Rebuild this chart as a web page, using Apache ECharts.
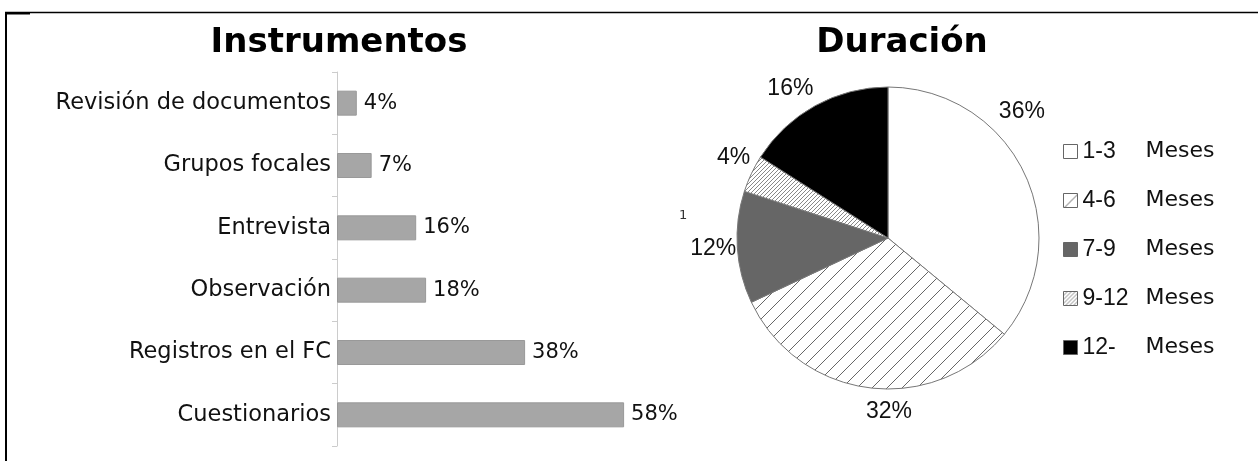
<!DOCTYPE html>
<html>
<head>
<meta charset="utf-8">
<script src="https://cdn.jsdelivr.net/npm/echarts@6/dist/echarts.min.js"></script>
<style>
html,body{margin:0;padding:0;background:#fff;}
#main{width:1258px;height:461px;}
</style>
</head>
<body>
<div id="main"></div>
<script>
// ---- data ----
const barTitle = 'Instrumentos';
const barCategories = ['Revisión de documentos', 'Grupos focales', 'Entrevista', 'Observación', 'Registros en el FC', 'Cuestionarios'];
const barValues = [4, 7, 16, 18, 38, 58];

const pieTitle = 'Duración';
const pieRanges = ['1-3', '4-6', '7-9', '9-12', '12-'];
const pieUnit = 'Meses';
const pieValues = [36, 32, 12, 4, 16];

// ---- styles ----
function hatch(size, gap, color, lw) {
  const c = document.createElement('canvas');
  c.width = size; c.height = size;
  const g = c.getContext('2d');
  g.fillStyle = '#fff'; g.fillRect(0, 0, size, size);
  g.strokeStyle = color; g.lineWidth = lw;
  g.beginPath();
  for (let k = 0; k <= 2 * size; k += gap) {
    g.moveTo(k + 1, -1); g.lineTo(-1, k + 1);
  }
  g.stroke();
  return c;
}
const sliceFills = [
  '#ffffff',
  { image: hatch(15, 15, '#666', 1), repeat: 'repeat' },
  '#666666',
  { image: hatch(16, 4, '#888', 1), repeat: 'repeat' },
  '#000000'
];
// label nudges (pixels) for the pie's percentage labels, in slice order
const pieLabelNudge = [[-38, -59], [49, 16], [12, 1], [11, -13], [7, -10]];

const chart = echarts.init(document.getElementById('main'), null, { renderer: 'canvas' });

const option = {
  backgroundColor: '#fff',
  animation: false,
  title: [
    { text: barTitle, left: 334, top: 21, textAlign: 'center',
      textStyle: { fontFamily: 'DejaVu Sans', fontWeight: 'bold', fontSize: 34, color: '#000' } },
    { text: pieTitle, left: 897, top: 21, textAlign: 'center',
      textStyle: { fontFamily: 'DejaVu Sans', fontWeight: 'bold', fontSize: 34, color: '#000' } }
  ],
  grid: { left: 337, top: 72, height: 374, width: 297, containLabel: false },
  xAxis: { type: 'value', min: 0, max: 60, show: false },
  yAxis: {
    type: 'category', data: barCategories, inverse: true,
    axisLine: { show: true, lineStyle: { color: '#cccccc', width: 1 } },
    axisTick: { show: true, length: 5, lineStyle: { color: '#cccccc' } },
    axisLabel: { fontFamily: 'DejaVu Sans', fontSize: 22.5, color: '#111', margin: 6 },
    splitLine: { show: false }
  },
  legend: {
    orient: 'vertical', left: 1058, top: 135, itemGap: 26,
    itemWidth: 14, itemHeight: 14, icon: 'rect',
    data: pieRanges.map(r => r + ' ' + pieUnit),
    itemStyle: { borderColor: '#666', borderWidth: 1 },
    formatter: name => {
      const i = name.lastIndexOf(' ');
      return '{a|' + name.slice(0, i) + '}{b|' + name.slice(i + 1) + '}';
    },
    textStyle: {
      rich: {
        a: { fontFamily: 'Liberation Sans', fontSize: 23, color: '#111', width: 63 },
        b: { fontFamily: 'DejaVu Sans', fontSize: 22, color: '#111' }
      }
    }
  },
  series: [
    {
      type: 'bar', data: barValues, barWidth: 25,
      itemStyle: { color: '#a6a6a6', borderColor: '#999999', borderWidth: 1 },
      label: { show: true, position: 'right', distance: 7, formatter: '{c}%',
        fontFamily: 'DejaVu Sans', fontSize: 21, color: '#111' }
    },
    {
      type: 'pie', center: [888, 238], radius: 151, startAngle: 90, clockwise: true,
      data: pieValues.map((v, i) => ({
        name: pieRanges[i] + ' ' + pieUnit, value: v,
        itemStyle: { color: sliceFills[i] }
      })),
      itemStyle: { borderColor: '#777', borderWidth: 1 },
      label: { show: true, position: 'outside', formatter: '{c}%',
        fontFamily: 'Liberation Sans', fontSize: 23, color: '#111' },
      labelLine: { show: false, length: 8, length2: 0 },
      labelLayout: p => ({ dx: pieLabelNudge[p.dataIndex][0], dy: pieLabelNudge[p.dataIndex][1] }),
      emphasis: { disabled: true }
    }
  ],
  graphic: [
    { type: 'line', shape: { x1: 5, y1: 12.5, x2: 1258, y2: 12.5 }, style: { stroke: '#000', lineWidth: 1.5 } },
    { type: 'line', shape: { x1: 6, y1: 12, x2: 6, y2: 461 }, style: { stroke: '#000', lineWidth: 2 } },
    { type: 'line', shape: { x1: 5, y1: 13.5, x2: 30, y2: 13.5 }, style: { stroke: '#000', lineWidth: 2 } },
    { type: 'text', left: 679, top: 209, style: { text: '1', font: '13px "DejaVu Sans"', fill: '#333' } }
  ]
};
chart.setOption(option);
</script>
</body>
</html>
